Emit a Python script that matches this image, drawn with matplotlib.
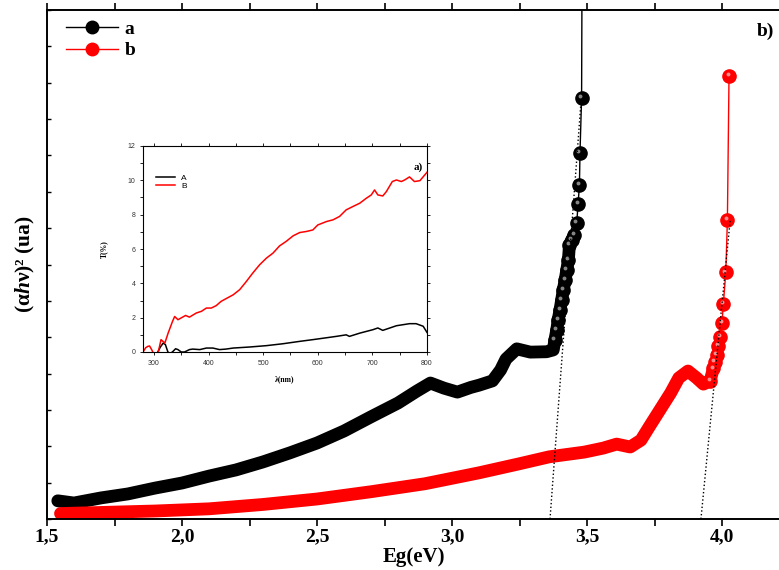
import matplotlib
matplotlib.use("Agg")
import matplotlib.pyplot as plt
from matplotlib.ticker import MultipleLocator, NullFormatter
from matplotlib.lines import Line2D
from matplotlib.transforms import offset_copy

plt.rcParams['font.family'] = 'Liberation Serif'
plt.rcParams['font.weight'] = 'bold'
plt.rcParams['mathtext.fontset'] = 'custom'
plt.rcParams['mathtext.rm'] = 'Liberation Serif:bold'
plt.rcParams['mathtext.it'] = 'Liberation Serif:italic:bold'

# --- courbe a : (alpha h nu)^2 en fonction de Eg
a_eg = [1.54, 1.60, 1.70, 1.80, 1.90, 2.00, 2.10, 2.20, 2.30, 2.40,
        2.50, 2.60, 2.70, 2.80, 2.87, 2.92, 2.97, 3.02, 3.07, 3.10,
        3.15, 3.18, 3.20, 3.24, 3.29, 3.35, 3.375, 3.381, 3.388, 3.393,
        3.400, 3.406, 3.412, 3.419, 3.425, 3.431, 3.435, 3.443, 3.453,
        3.462, 3.467, 3.472, 3.474, 3.480, 3.482]
a_val = [0.50, 0.44, 0.58, 0.69, 0.85, 0.99, 1.18, 1.35, 1.57, 1.82,
         2.09, 2.42, 2.81, 3.19, 3.52, 3.74, 3.60, 3.49, 3.62, 3.68,
         3.80, 4.10, 4.40, 4.68, 4.59, 4.60, 4.65, 4.92, 5.20, 5.47,
         5.75, 6.02, 6.30, 6.57, 6.85, 7.12, 7.54, 7.67, 7.81,
         8.15, 8.66, 9.20, 10.06, 11.59, 16.0]

# --- courbe b
b_eg = [1.55, 1.70, 1.90, 2.10, 2.30, 2.50, 2.70, 2.90, 3.10, 3.25,
        3.36, 3.49, 3.56, 3.61, 3.66, 3.70, 3.73, 3.77, 3.81, 3.84,
        3.874, 3.906, 3.931, 3.956, 3.968, 3.974, 3.980, 3.986, 3.993,
        4.000, 4.005, 4.014, 4.020, 4.026]
b_val = [0.15, 0.18, 0.22, 0.28, 0.40, 0.55, 0.75, 0.97, 1.27, 1.52,
         1.71, 1.84, 1.95, 2.06, 1.98, 2.17, 2.53, 3.00, 3.47, 3.88,
         4.07, 3.88, 3.71, 3.80, 4.14, 4.33, 4.51, 4.77, 5.01,
         5.40, 5.91, 6.78, 8.22, 12.18]

# tangentes (extrapolation du gap)
tan_a_x = [3.363, 3.478]
tan_a_y = [0.0, 11.5]
tan_b_x = [3.922, 4.030]
tan_b_y = [0.0, 8.2]

# --- encart : transmittance
lam_A = [300, 307, 312, 317, 321, 325.6, 330, 335, 339.7, 344, 350, 356,
         365, 371, 384, 396, 408, 420, 432, 445, 475, 506, 536, 567, 591,
         616, 634, 652, 658, 677, 689, 701, 710, 719, 732, 744, 756, 768,
         780, 793, 800]
T_A = [-0.6, 0.0, 0.30, 0.52, 0.43, 0.0, -0.10, 0.04, 0.19, 0.14, 0.0,
       0.0, 0.14, 0.17, 0.14, 0.23, 0.23, 0.14, 0.17, 0.23, 0.29, 0.37,
       0.48, 0.62, 0.72, 0.83, 0.91, 1.00, 0.91, 1.10, 1.20, 1.30, 1.40,
       1.26, 1.40, 1.53, 1.59, 1.65, 1.65, 1.50, 1.14]
lam_B = [280, 285, 289, 292, 296, 298, 303, 308, 313, 316.5, 320, 326,
         334, 338, 344, 358, 365, 377.5, 387, 396, 405, 414, 423, 445,
         457, 469, 481, 493.5, 506, 518, 530, 542, 555, 567, 579, 591,
         600, 616, 628, 640, 652, 664, 677, 689, 698, 704, 710, 719,
         725.5, 736.5, 744, 753, 759, 768, 777, 787, 800]
T_B = [0.0, 0.25, 0.33, 0.35, 0.13, 0.0, -0.4, 0.0, 0.72, 0.62, 0.52,
       1.10, 1.78, 2.07, 1.88, 2.13, 2.03, 2.27, 2.37, 2.56, 2.56, 2.70,
       2.95, 3.33, 3.63, 4.10, 4.60, 5.08, 5.47, 5.76, 6.18, 6.44, 6.77,
       6.96, 7.02, 7.11, 7.40, 7.60, 7.70, 7.90, 8.28, 8.47, 8.67, 8.96,
       9.15, 9.44, 9.15, 9.09, 9.34, 9.93, 10.02, 9.93, 10.02, 10.20,
       9.93, 9.98, 10.47]

fig = plt.figure(figsize=(7.79, 5.70), dpi=100)
ax = fig.add_axes([47/779, 51/570, 734.4/779, 509/570])


def courbe(x, y, couleur, reflet, n_dense, n_billes):
    # bande epaisse pour la zone ou les points se recouvrent,
    # puis billes separees et trait fin
    ax.plot(x[:n_dense], y[:n_dense], '-', color=couleur, lw=9.2,
            solid_capstyle='round', solid_joinstyle='round', zorder=2)
    ax.plot(x, y, '-', color=couleur, lw=1, zorder=2)
    xb, yb = x[n_billes:], y[n_billes:]
    ax.plot(xb, yb, 'o', color=couleur, ms=9.5, mec=couleur, zorder=3)
    tr = offset_copy(ax.transData, fig=fig, x=-1.5, y=1.8, units='dots')
    ax.plot(xb, yb, 'o', color=reflet, ms=2.8, mew=0, transform=tr,
            alpha=0.8, zorder=4)


courbe(a_eg, a_val, 'black', '#a8a8a8', 39, 27)
courbe(b_eg, b_val, '#ff0000', '#ffb0b0', 25, 23)

ax.plot(tan_a_x, tan_a_y, ':', color='black', lw=1, zorder=5)
ax.plot(tan_b_x, tan_b_y, ':', color='black', lw=1, zorder=5)

ax.set_xlim(1.5, 4.22)
ax.set_ylim(0, 14)
ax.xaxis.set_major_locator(MultipleLocator(0.5))
ax.xaxis.set_minor_locator(MultipleLocator(0.25))
ax.yaxis.set_major_locator(MultipleLocator(1))
ax.yaxis.set_major_formatter(NullFormatter())
ax.set_xticks([1.5, 2.0, 2.5, 3.0, 3.5, 4.0])
ax.set_xticklabels(['1,5', '2,0', '2,5', '3,0', '3,5', '4,0'])
ax.tick_params(axis='x', which='both', direction='out', length=5, width=1.2,
               labelsize=14, pad=2, top=True)
ax.tick_params(axis='y', which='both', direction='in', length=3, width=1)
for s in ax.spines.values():
    s.set_linewidth(1.4)

ax.set_xlabel('Eg(eV)', fontsize=15, fontweight='bold', labelpad=1)
ax.set_ylabel(r'(α$\mathit{h}$ν)² (ua)', fontsize=15.5, fontweight='bold',
              labelpad=4)

ax.text(0.99, 0.975, 'b)', transform=ax.transAxes, fontsize=14,
        fontweight='bold', ha='right', va='top')

h_a = Line2D([], [], color='black', lw=1, marker='o', ms=9)
h_b = Line2D([], [], color='#ff0000', lw=1, marker='o', ms=9)
ax.legend([h_a, h_b], ['a', 'b'], loc='upper left', frameon=False,
          bbox_to_anchor=(0.002, 1.014), handlelength=2.7, labelspacing=0.2,
          prop={'family': 'Liberation Serif', 'weight': 'bold', 'size': 14},
          handletextpad=0.3)

# --- encart
ins = fig.add_axes([143/779, 218/570, 284/779, 206/570])
ins.plot(lam_A, T_A, color='black', lw=1.1)
ins.plot(lam_B, T_B, color='#ff0000', lw=1.1)
ins.set_xlim(280, 800)
ins.set_ylim(0, 12)
ins.xaxis.set_major_locator(MultipleLocator(100))
ins.xaxis.set_minor_locator(MultipleLocator(50))
ins.yaxis.set_major_locator(MultipleLocator(2))
ins.yaxis.set_minor_locator(MultipleLocator(1))
ins.tick_params(which='both', labelsize=5, length=2, width=0.6,
                right=True, top=True, labelcolor='#333333')
for lab in ins.get_xticklabels() + ins.get_yticklabels():
    lab.set_family('Liberation Sans')
    lab.set_weight('normal')
for s in ins.spines.values():
    s.set_linewidth(0.8)
ins.set_xlabel('λ(nm)', fontsize=5.5, fontweight='bold', labelpad=6)
ins.set_ylabel('T(%)', fontsize=5.5, fontweight='bold', labelpad=14)
ins.text(0.985, 0.92, 'a)', transform=ins.transAxes, fontsize=8,
         fontweight='bold', ha='right', va='top')
ins.legend(['A', 'B'], loc='upper left', frameon=False,
           bbox_to_anchor=(0.02, 0.9), handlelength=2.2, labelspacing=0.05,
           prop={'family': 'Liberation Sans', 'weight': 'normal', 'size': 6})

fig.savefig('out.png', dpi=100)
